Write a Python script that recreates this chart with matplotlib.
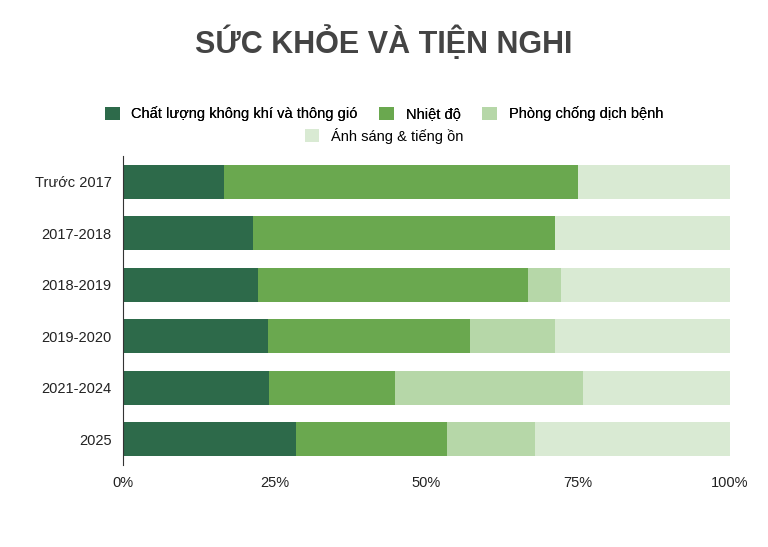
import matplotlib
matplotlib.use("Agg")
import matplotlib.pyplot as plt
from matplotlib.ticker import FixedLocator

plt.rcParams['font.family'] = ['Liberation Sans', 'DejaVu Sans']

categories = ["Trước 2017", "2017-2018", "2018-2019", "2019-2020", "2021-2024", "2025"]
series_names = ["Chất lượng không khí và thông gió", "Nhiệt độ", "Phòng chống dịch bệnh", "Ánh sáng & tiếng ồn"]
air = [16.6, 21.4, 22.2, 23.9, 24.1, 28.5]
temp = [58.4, 49.9, 44.5, 33.3, 20.7, 25.0]
disease = [0, 0, 5.5, 14.1, 31.0, 14.4]
light = [25.0, 28.7, 27.8, 28.7, 24.2, 32.1]
colors = ["#2d6a4a", "#6aa84f", "#b6d7a8", "#d9ead3"]

fig = plt.figure(figsize=(7.68, 5.47), dpi=100)
ax = fig.add_axes([0.160, 0.150, 0.790, 0.565])
y = list(range(len(categories)))
left = [0]*len(categories)
handles = []
for vals, c, n in zip([air, temp, disease, light], colors, series_names):
    h = ax.barh(y, vals, left=left, color=c, height=0.66, label=n)
    handles.append(h)
    left = [l+v for l, v in zip(left, vals)]
ax.set_ylim(len(categories)-0.5, -0.5)
ax.set_yticks(y)
ax.set_yticklabels(categories, fontsize=10.5, color="#222")
ax.set_xlim(0, 100)
ax.xaxis.set_major_locator(FixedLocator([0, 25, 50, 75, 100]))
ax.set_xticklabels(["0%", "25%", "50%", "75%", "100%"], fontsize=10.5, color="#222")
ax.tick_params(length=0, pad=8)
for s in ["top", "right", "bottom"]:
    ax.spines[s].set_visible(False)
ax.spines["left"].set_color("#333")

fig.text(0.5, 0.923, "SỨC KHỎE VÀ TIỆN NGHI", ha="center", va="center",
         fontsize=22, fontweight="bold", color="#444444")
leg1 = fig.legend(handles[:3], series_names[:3], loc="center", bbox_to_anchor=(0.5, 0.792), ncol=3,
                  frameon=False, fontsize=10.5, handlelength=1.0, handleheight=1.0, columnspacing=1.5)
fig.add_artist(leg1)
fig.legend(handles[3:], series_names[3:], loc="center", bbox_to_anchor=(0.5, 0.752), ncol=1,
           frameon=False, fontsize=10.5, handlelength=1.0, handleheight=1.0)
fig.savefig("out.png", dpi=100)
